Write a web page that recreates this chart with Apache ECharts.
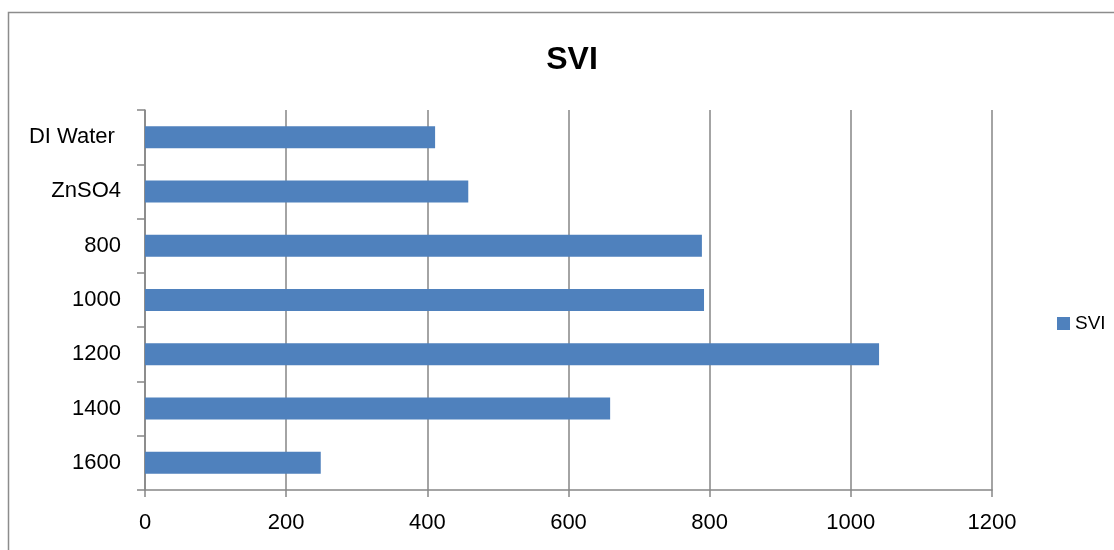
<!DOCTYPE html>
<html><head><meta charset="utf-8">
<script src="https://cdn.jsdelivr.net/npm/echarts@6/dist/echarts.min.js"></script>
<style>html,body{margin:0;padding:0;background:#fff}#c{width:1114px;height:550px}</style>
</head><body><div id="c"></div>
<script>
var categories = ['DI Water ', 'ZnSO4', '800', '1000', '1200', '1400', '1600'];
var svi = [411, 458, 789, 792, 1040, 659, 249];
var xTicks = [0, 200, 400, 600, 800, 1000, 1200];

var chart = echarts.init(document.getElementById('c'));
chart.setOption({
  animation: false,
  backgroundColor: '#fff',
  title: {text: 'SVI', left: 567, top: 39, textAlign: 'center',
    textStyle: {fontFamily: 'Liberation Sans', fontSize: 32, fontWeight: 'bold', color: '#000'}},
  legend: {data: ['SVI'], left: 1052, top: 309, orient: 'vertical', itemWidth: 13, itemHeight: 13, itemGap: 5,
    icon: 'rect',
    textStyle: {fontFamily: 'Liberation Sans', fontSize: 19, color: '#000', padding: [0,0,0,0]}},
  graphic: [{type: 'rect', shape: {x: 8.5, y: 12.5, width: 1200, height: 600},
    style: {fill: 'none', stroke: '#8c8c8c', lineWidth: 1.5}, z: -1}],
  grid: {left: 145, right: 122, top: 110, bottom: 60},
  xAxis: {type: 'value', min: 0, max: 1200, interval: 200,
    axisLine: {show: true, lineStyle: {color: '#868686', width: 1.5}},
    axisTick: {show: true, length: 7, lineStyle: {color: '#868686', width: 1.5}},
    splitLine: {show: true, lineStyle: {color: '#868686', width: 1.5}},
    axisLabel: {margin: 22, fontFamily: 'Liberation Sans', fontSize: 22, color: '#000',
      formatter: function(v){ return xTicks.indexOf(v) >= 0 ? String(v) : ''; }}},
  yAxis: {type: 'category', data: categories, inverse: true,
    axisLine: {show: true, lineStyle: {color: '#868686', width: 1.5}},
    axisTick: {show: true, length: 8, lineStyle: {color: '#868686', width: 1.5}},
    axisLabel: {margin: 24, fontFamily: 'Liberation Sans', fontSize: 22, color: '#000', padding: [4,0,0,0]}},
  series: [{name: 'SVI', type: 'bar', data: svi, barWidth: 22,
    itemStyle: {color: '#4F81BD'}}]
});
</script></body></html>
